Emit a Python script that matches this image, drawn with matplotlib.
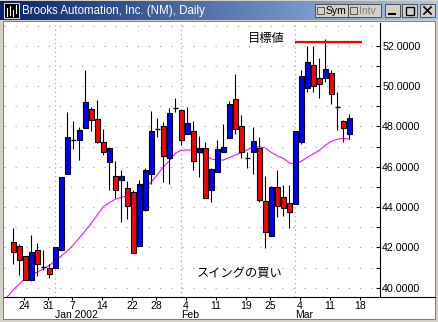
import numpy as np
import pandas as pd
import matplotlib
matplotlib.use("Agg")
import matplotlib.pyplot as plt
import matplotlib.transforms as mtransforms
from matplotlib.patches import Rectangle

# ---------------------------------------------------------------
# data (daily OHLC, Dec 20 2001 - Mar 14 2002)
# ---------------------------------------------------------------
dates = ["2001-12-20", "2001-12-21", "2001-12-24", "2001-12-26", "2001-12-27",
         "2001-12-28", "2001-12-31", "2002-01-02", "2002-01-03", "2002-01-04",
         "2002-01-07", "2002-01-08", "2002-01-09", "2002-01-10", "2002-01-11",
         "2002-01-14", "2002-01-15", "2002-01-16", "2002-01-17", "2002-01-18",
         "2002-01-22", "2002-01-23", "2002-01-24", "2002-01-25", "2002-01-28",
         "2002-01-29", "2002-01-30", "2002-01-31", "2002-02-01", "2002-02-04",
         "2002-02-05", "2002-02-06", "2002-02-07", "2002-02-08", "2002-02-11",
         "2002-02-12", "2002-02-13", "2002-02-14", "2002-02-15", "2002-02-19",
         "2002-02-20", "2002-02-21", "2002-02-22", "2002-02-25", "2002-02-26",
         "2002-02-27", "2002-02-28", "2002-03-01", "2002-03-04", "2002-03-05",
         "2002-03-06", "2002-03-07", "2002-03-08", "2002-03-11", "2002-03-12",
         "2002-03-13", "2002-03-14"]

opens = [42.25, 42.05, 41.56, 40.37, 41.86, 41.03, 40.96, 40.96, 41.89, 45.62,
         47.31, 47.34, 47.93, 48.86, 48.37, 47.23, 46.22, 45.53, 45.33, 44.96,
         44.73, 42.08, 43.84, 45.62, 47.87, 48.00, 46.42, 48.90, 48.80, 47.61,
         47.77, 46.74, 46.94, 44.86, 45.72, 46.74, 47.41, 49.36, 48.00, 46.42,
         46.71, 46.91, 44.30, 42.55, 45.00, 44.50, 44.20, 44.17, 47.21, 49.89,
         51.04, 50.38, 50.38, 50.65, 48.96, 48.27, 47.61]
highs = [42.98, 42.15, 41.58, 42.61, 42.22, 41.89, 41.16, 42.02, 45.49, 48.73,
         48.27, 47.97, 50.81, 48.96, 49.32, 47.87, 46.98, 46.28, 45.82, 45.29,
         44.83, 45.33, 45.92, 48.76, 48.43, 48.20, 48.90, 49.39, 48.86, 48.96,
         48.27, 47.51, 47.21, 45.92, 47.31, 48.13, 49.26, 50.61, 48.56, 46.74,
         47.97, 47.47, 45.55, 45.06, 45.82, 45.09, 45.09, 47.77, 50.78, 52.00,
         52.00, 51.41, 52.33, 50.78, 49.72, 48.33, 48.60]
lows = [41.19, 40.63, 40.40, 40.35, 40.60, 40.86, 40.47, 40.96, 41.89, 45.62,
        46.88, 46.35, 47.90, 47.77, 47.18, 46.58, 44.86, 44.46, 43.24, 43.41,
        41.72, 42.05, 43.80, 45.13, 47.47, 45.26, 45.13, 48.73, 47.08, 47.61,
        45.85, 45.49, 44.46, 44.24, 45.72, 46.74, 47.41, 47.61, 46.45, 45.95,
        45.65, 44.24, 41.99, 42.55, 43.51, 43.54, 42.98, 44.17, 47.14, 49.69,
        49.72, 49.42, 50.19, 49.12, 47.84, 47.21, 47.37]
closes = [41.76, 41.36, 40.40, 41.76, 41.16, 41.03, 40.67, 42.02, 45.49, 47.47,
          47.31, 47.82, 49.21, 48.33, 47.24, 46.74, 46.94, 44.86, 45.53, 44.07,
          41.72, 45.13, 45.82, 47.77, 47.87, 46.52, 48.66, 48.90, 47.34, 48.17,
          46.28, 46.91, 44.46, 45.89, 46.88, 46.98, 49.09, 47.87, 46.71, 46.42,
          47.28, 44.36, 42.75, 45.00, 44.04, 43.97, 43.74, 47.77, 50.48, 51.18,
          50.02, 50.09, 50.84, 49.59, 48.96, 47.93, 48.40]

# moving average (magenta), first value belongs to the day before the first candle
ma_values = [39.55, 39.90, 40.19, 40.48, 40.62, 40.78, 40.93, 41.11, 41.35, 41.58,
             41.82, 42.12, 42.47, 42.83, 43.20, 43.61, 44.02, 44.22, 44.39, 44.48,
             44.56, 44.63, 44.68, 44.94, 45.25, 45.60, 45.99, 46.29, 46.67, 46.82,
             46.83, 46.82, 46.74, 46.58, 46.38, 46.33, 46.33, 46.45, 46.58, 46.70,
             46.84, 46.97, 46.99, 46.93, 46.71, 46.54, 46.42, 46.19, 46.13, 46.27,
             46.47, 46.64, 46.81, 47.06, 47.26, 47.36, 47.41, 47.36]

# target level
target_price = 52.2
target_from = "2002-03-01"
target_to = "2002-03-18"

# axis labels
day_ticks = ["2001-12-24", "2001-12-31", "2002-01-07", "2002-01-14", "2002-01-22",
             "2002-01-28", "2002-02-04", "2002-02-11", "2002-02-19", "2002-02-25",
             "2002-03-04", "2002-03-11", "2002-03-18"]
day_labels = ["24", "31", "7", "14", "22", "28", "4", "11", "19", "25", "4", "11", "18"]
month_starts = ["2002-01-02", "2002-02-01", "2002-03-01"]
month_labels = ["Jan 2002", "Feb", "Mar"]
y_major = [40, 42, 44, 46, 48, 50, 52]

title = "Brooks Automation, Inc. (NM), Daily"
target_text = "目標値"
buy_text = "スイングの買い"

# ---------------------------------------------------------------
# trading-day index (future days continue on business days)
# ---------------------------------------------------------------
future = pd.bdate_range(pd.Timestamp(dates[-1]) + pd.Timedelta(days=1), periods=5)
all_days = [pd.Timestamp(d) for d in dates] + list(future)
day_index = {d.strftime("%Y-%m-%d"): i for i, d in enumerate(all_days)}

x = np.arange(len(dates))
o = np.array(opens)
h = np.array(highs)
l = np.array(lows)
c = np.array(closes)

W, H = 438, 322
fig = plt.figure(figsize=(W / 100, H / 100), dpi=100, facecolor="#D4D0C8")

# background: window frame and title bar in pixel coordinates
bg = fig.add_axes([0, 0, 1, 1], zorder=0)
bg.axis("off")
grad = np.linspace(0, 1, 256)[None, :, None]
left_col = np.array([10, 36, 106]) / 255
right_col = np.array([166, 202, 240]) / 255
bg.imshow(left_col + grad * (right_col - left_col), extent=(0, W, 20, 1), aspect="auto")
bg.add_patch(Rectangle((3, 21), 433, 299, facecolor="#808080", edgecolor="none"))
bg.add_patch(Rectangle((4, 22), 431, 297, facecolor="white", edgecolor="none"))
# axis line continues right of the price scale
bg.plot([380, 435], [297, 297], color="black", lw=0.8)

# window icon
bg.add_patch(Rectangle((4, 3), 15, 15, facecolor="black", edgecolor="white", lw=0.6))
for bx, by0, by1 in [(7, 8, 16), (10, 6, 15), (13, 10, 16), (16, 5, 13)]:
    bg.plot([bx, bx], [by0, by1], color="white", lw=0.8)
bg.text(22, 11, title, color="white", fontsize=8.3, family="Liberation Sans",
        va="center", ha="left")

# title bar buttons
for bx0, bw, label, tc in [(315, 33, "Sym", "black"), (348, 33, "Intv", "#808080")]:
    bg.add_patch(Rectangle((bx0, 4), bw, 13, facecolor="#D4D0C8", edgecolor="#404040", lw=0.6))
    bg.add_patch(Rectangle((bx0 + 2, 6.5), 7, 7, facecolor="#D4D0C8", edgecolor="#404040", lw=0.6))
    bg.text(bx0 + 10.5, 10.5, label, fontsize=7.5, family="Liberation Sans", color=tc,
            va="center", ha="left")
for bx0 in [385, 402, 420]:
    bg.add_patch(Rectangle((bx0, 4), 15, 13, facecolor="#D4D0C8", edgecolor="#404040", lw=0.6))
bg.plot([389, 395], [14, 14], color="black", lw=1.5)
bg.add_patch(Rectangle((405.5, 6.5), 8, 8, facecolor="none", edgecolor="black", lw=1.0))
bg.plot([424, 431], [7, 14], color="black", lw=1.2)
bg.plot([424, 431], [14, 7], color="black", lw=1.2)
bg.set_xlim(0, W)
bg.set_ylim(H, 0)

# ---------------------------------------------------------------
# price chart
# ---------------------------------------------------------------
ax = fig.add_axes([4 / W, (H - 297) / H, 376 / W, 274 / H], zorder=1)
ax.set_facecolor("none")
ax.set_xlim(-1.55, 61.12)
ax.set_ylim(39.54, 53.125)

# grid: dotted price levels and month separators
for lev in range(40, 54):
    ax.axhline(lev, color="#A0A0A0", lw=0.8, dashes=(1, 9), zorder=0)
for d in month_starts:
    ax.axvline(day_index[d], color="#A0A0A0", lw=0.8, dashes=(1, 3), zorder=0)

# moving average
ax.plot(np.arange(-1, len(dates)), ma_values, color="#FF00FF", lw=0.75, zorder=1)

# candles
doji = np.abs(c - o) < 0.02
up = c > o
ax.vlines(x, l, h, color="black", lw=0.8, zorder=2)
body_colors = np.where(up, "#0000FF", "#FF0000")
ax.bar(x[~doji], np.abs(c - o)[~doji], bottom=np.minimum(o, c)[~doji], width=0.8,
       color=body_colors[~doji], edgecolor="black", linewidth=0.8, zorder=3)
ax.hlines(c[doji], x[doji] - 0.45, x[doji] + 0.45, color="black", lw=1.0, zorder=3)

# target line and notes
ax.hlines(target_price, day_index[target_from] - 0.05, day_index[target_to] + 0.2,
          color="#FF0000", lw=1.6, zorder=3)
ax.text(38.9, 52.37, target_text, family=["Noto Sans CJK JP", "DejaVu Sans"],
        fontsize=8.8, ha="left", va="center")
ax.text(30.5, 40.72, buy_text, family=["Noto Sans CJK JP", "DejaVu Sans"],
        fontsize=8.8, ha="left", va="center")

# axes styling
for side in ["left", "top"]:
    ax.spines[side].set_visible(False)
for side in ["right", "bottom"]:
    ax.spines[side].set_linewidth(0.8)

ax.yaxis.tick_right()
ax.set_yticks(y_major)
ax.set_yticklabels([f"{v:.4f}" for v in y_major], family="Liberation Sans", fontsize=7.7)
ax.set_yticks(range(41, 53, 2), minor=True)
ax.tick_params(axis="y", which="both", direction="in", length=3, width=0.8, pad=1.5)

ax.set_xticks([day_index[d] - 0.2 for d in day_ticks])
ax.set_xticklabels(day_labels, family="Liberation Sans", fontsize=7.5)
ax.tick_params(axis="x", direction="out", length=2, width=0.8, pad=1.0)

tr = mtransforms.blended_transform_factory(ax.transData, ax.transAxes)
for d, lab in zip(month_starts, month_labels):
    ax.text(day_index[d], -0.066, lab, transform=tr, ha="left", va="center",
            family="Liberation Sans", fontsize=7.5, clip_on=False)

fig.savefig("out.png", dpi=100, facecolor=fig.get_facecolor())
